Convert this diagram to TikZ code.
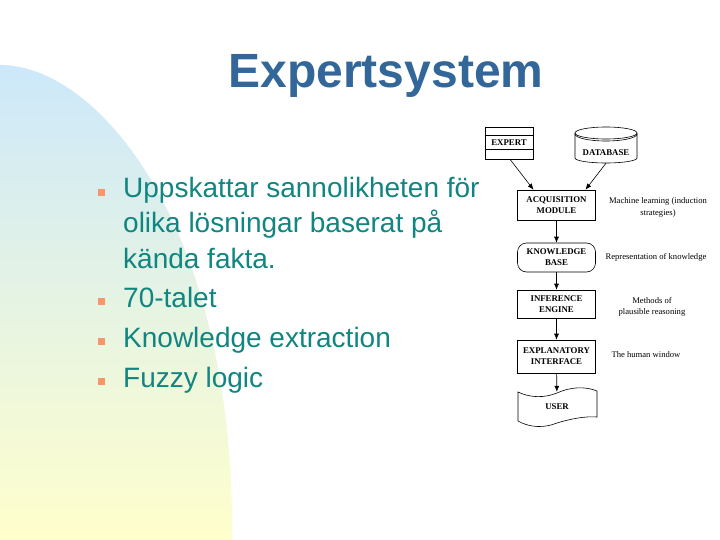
\documentclass[tikz,border=0pt]{standalone}
\usepackage{fontspec}
\setmainfont{Liberation Sans}
\newfontfamily\serifd{Liberation Serif}
\usetikzlibrary{arrows.meta}
\definecolor{titleblue}{RGB}{51,102,153}
\definecolor{tealtext}{RGB}{17,133,128}
\definecolor{bulletc}{RGB}{246,150,105}
\definecolor{bgblue}{RGB}{204,232,250}
\definecolor{bgmid}{RGB}{226,242,230}
\definecolor{bgyel}{RGB}{255,255,204}
\begin{document}
\begin{tikzpicture}[x=1pt,y=-1pt,
  titlestyle/.style={anchor=base, inner sep=0, text=titleblue, font=\bfseries\fontsize{48}{56}\selectfont},
  body/.style={anchor=base west, inner sep=0, text=tealtext, font=\fontsize{28}{34}\selectfont},
  bul/.style={fill=bulletc, minimum size=6.5pt, inner sep=0},
  box/.style={draw, line width=0.6pt, minimum width=78pt, align=center, inner sep=0, font=\serifd\bfseries\fontsize{8.8}{11}\selectfont},
  lbl/.style={align=center, inner sep=0, font=\serifd\fontsize{8.6}{11.5}\selectfont},
  arr/.style={-{Latex[length=6pt,width=5pt]}, line width=0.6pt},
  shp/.style={line width=0.6pt}]
\useasboundingbox (0,0) rectangle (720,540);
\fill[white] (0,0) rectangle (720,540);
% background blob
\shade[top color=bgblue, middle color=bgmid, bottom color=bgyel]
  (0,65) .. controls (100,65) and (235,230) .. (232,540) -- (0,540) -- cycle;
% title
\node[titlestyle] (title) at (386,88) {Expertsystem};
% bullets and text
\node[bul] (b1) at (101.5,192.5) {};
\node[body] (t1a) at (123,198) {Uppskattar sannolikheten för};
\node[body] (t1b) at (123,233) {olika lösningar baserat på};
\node[body] (t1c) at (123,268) {kända fakta.};
\node[bul] (b2) at (101.5,301.5) {};
\node[body] (t2) at (123,307) {70-talet};
\node[bul] (b3) at (101.5,341.5) {};
\node[body] (t3) at (123,347) {Knowledge extraction};
\node[bul] (b4) at (101.5,381.5) {};
\node[body] (t4) at (123,387) {Fuzzy logic};
% diagram
\node[box, minimum width=48pt, minimum height=32pt] (expert) at (509,143) {EXPERT};
\draw[shp] ([yshift=-9pt]expert.north west) -- ([yshift=-9pt]expert.north east);
\draw[shp] ([yshift=10pt]expert.south west) -- ([yshift=10pt]expert.south east);
\node[minimum width=62pt, minimum height=36pt, inner sep=0] (db) at (606,145) {};
\draw[shp] (575,133) -- (575,158) arc[start angle=180, end angle=0, x radius=31, y radius=5] -- (637,133);
\draw[shp] (606,133) ellipse [x radius=31, y radius=6];
\draw[shp] (575,134) arc[start angle=180, end angle=0, x radius=31, y radius=7];
\node[inner sep=0, font=\serifd\bfseries\fontsize{8.8}{11}\selectfont] (dbt) at (606,153) {DATABASE};
\node[box, minimum height=30pt] (acq) at (556.5,205) {ACQUISITION\\MODULE};
\node[box, rounded corners=9pt, minimum height=29pt] (kb) at (556.5,257.5) {KNOWLEDGE\\BASE};
\node[box, minimum height=28pt] (inf) at (556.5,304) {INFERENCE\\ENGINE};
\node[box, minimum height=33pt] (expl) at (556.5,356.5) {EXPLANATORY\\INTERFACE};
\node[minimum width=79pt, minimum height=30pt, inner sep=0, font=\serifd\bfseries\fontsize{8.8}{11}\selectfont] (user) at (557,407) {USER};
\draw[shp] (518,392) .. controls (530,398) and (545,398) .. (557,393)
  .. controls (570,387) and (585,386) .. (597,391) -- (597,417)
  .. controls (585,416) and (570,419) .. (557,423)
  .. controls (545,428) and (530,428) .. (518,421) -- cycle;
% connectors
\draw[arr] ([xshift=1pt]expert.south) -- ([xshift=-23pt]acq.north);
\draw[arr] (db.south) -- ([xshift=29pt]acq.north);
\draw[arr] (acq) -- (kb);
\draw[arr] (kb) -- (inf);
\draw[arr] (inf) -- (expl);
\draw[arr] (expl) -- (user);
% labels
\node[lbl] (l1) at (658,207.5) {Machine learning (induction\\strategies)};
\node[lbl] (l2) at (656,257) {Representation of knowledge};
\node[lbl] (l3) at (652,307) {Methods of\\plausible reasoning};
\node[lbl] (l4) at (646,355) {The human window};
\end{tikzpicture}
\end{document}
